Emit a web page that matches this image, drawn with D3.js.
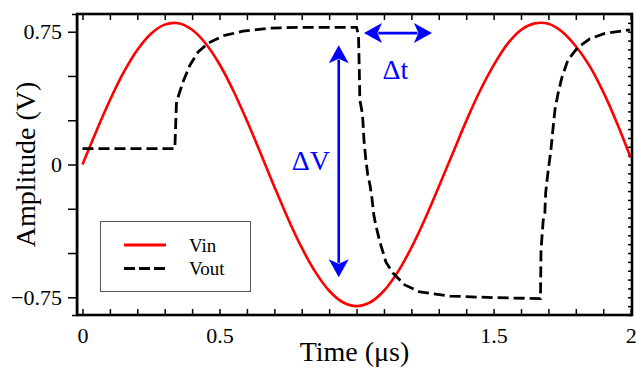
<!doctype html>
<html>
<head>
<meta charset="utf-8">
<style>
    body { margin: 0; background: #fff; }
    svg { display: block; font-family: "Liberation Serif", "Times New Roman", serif; }
    .tick text { font-size: 22px; fill: #000; }
    .tick line { stroke: #000; stroke-width: 1.5; }
</style>
<script src="https://d3js.org/d3.v7.min.js"></script>
</head>
<body>
<svg width="636" height="375"></svg>
<script>
    // values
    var vinTime = [0, 0.05, 0.1, 0.15, 0.2, 0.25, 0.3, 0.35, 0.4, 0.45, 0.5, 0.55, 0.6, 0.65, 0.7, 0.75, 0.8, 0.85, 0.9, 0.95,
                   1.0, 1.05, 1.1, 1.15, 1.2, 1.25, 1.3, 1.35, 1.4, 1.45, 1.5, 1.55, 1.6, 1.65, 1.7, 1.75, 1.8, 1.85, 1.9, 1.95, 2.0];
    var vinValue = [0, 0.187, 0.363, 0.52, 0.647, 0.739, 0.79, 0.798, 0.761, 0.682, 0.566, 0.418, 0.247, 0.063, -0.125, -0.306, -0.47, -0.608, -0.713, -0.778,
                    -0.8, -0.778, -0.713, -0.608, -0.47, -0.306, -0.125, 0.06, 0.245, 0.415, 0.56, 0.68, 0.76, 0.797, 0.795, 0.75, 0.668, 0.557, 0.41, 0.235, 0.04];

    var voutTime = [0, 0.337, 0.343, 0.367, 0.392, 0.422, 0.458, 0.513, 0.586, 0.684, 0.8, 1.0,
                    1.007, 1.01, 1.012, 1.019, 1.023, 1.027, 1.034, 1.041, 1.049, 1.056, 1.063, 1.07, 1.085, 1.107, 1.132, 1.176, 1.231, 1.341, 1.5, 1.671,
                    1.673, 1.681, 1.687, 1.69, 1.698, 1.709, 1.716, 1.724, 1.735, 1.749, 1.771, 1.807, 1.851, 1.906, 1.997];
    var voutValue = [0.09, 0.09, 0.354, 0.467, 0.561, 0.636, 0.684, 0.727, 0.753, 0.77, 0.775, 0.775,
                     0.731, 0.533, 0.364, 0.307, 0.251, 0.138, 0.025, -0.059, -0.116, -0.189, -0.285, -0.341, -0.437, -0.55, -0.612, -0.68, -0.72, -0.743, -0.752, -0.757,
                     -0.484, -0.315, -0.275, -0.16, -0.05, 0.08, 0.19, 0.31, 0.4, 0.49, 0.59, 0.66, 0.71, 0.74, 0.76];

    var xMinor = d3.range(0, 21).map(function(i) { return i / 10; });
    var xLabels = { "0": "0", "0.5": "0.5", "1.5": "1.5", "2": "2" };
    var yTicks = [-0.75, -0.5, -0.25, 0, 0.25, 0.5, 0.75];
    var yLabels = { "0.75": "0.75", "0": "0", "-0.75": "\u22120.75" };
    var yRightTicks = d3.range(-17, 18).map(function(i) { return i * 0.05; });

    var seriesNames = ["Vin", "Vout"];

    var serif = "Liberation Serif, Times New Roman, serif";
    var svg = d3.select("svg");
    var pLeft = 77, pRight = 632, pTop = 14, pBottom = 315;

    var x = d3.scaleLinear().domain([-0.02, 2.005]).range([pLeft, pRight]);
    var y = d3.scaleLinear().domain([-0.85, 0.85]).range([pBottom, pTop]);

    svg.append("defs").append("clipPath").attr("id", "clip")
       .append("rect").attr("x", pLeft).attr("y", pTop).attr("width", pRight - pLeft).attr("height", pBottom - pTop);

    // axes
    var gb = svg.append("g")
       .attr("transform", "translate(0," + pBottom + ")")
       .call(d3.axisBottom(x).tickValues(xMinor).tickSizeInner(-6).tickSizeOuter(0).tickPadding(12)
             .tickFormat(function(d) { var k = String(+d.toFixed(2)); return xLabels[k] || ""; }));
    gb.select(".domain").remove();
    gb.attr("font-family", serif);

    svg.append("g")
       .attr("transform", "translate(0," + pTop + ")")
       .call(d3.axisTop(x).tickValues(xMinor).tickSizeInner(-6).tickSizeOuter(0).tickFormat(""))
       .select(".domain").remove();

    var gl = svg.append("g")
       .attr("transform", "translate(" + pLeft + ",0)")
       .call(d3.axisLeft(y).tickValues(yTicks).tickSizeInner(9).tickSizeOuter(5).tickPadding(6)
             .tickFormat(function(d) { return yLabels[String(d)] || ""; }));
    gl.select(".domain").attr("stroke-width", 1.5);
    gl.attr("font-family", serif);

    svg.append("g")
       .attr("transform", "translate(" + pRight + ",0)")
       .call(d3.axisRight(y).tickValues(yRightTicks).tickSizeInner(-4).tickSizeOuter(0).tickFormat(""))
       .select(".domain").remove();

    // series
    var vin = vinTime.map(function(t, i) { return [t, vinValue[i]]; });
    var vout = voutTime.map(function(t, i) { return [t, voutValue[i]]; });

    var plot = svg.append("g").attr("clip-path", "url(#clip)");

    plot.append("path")
        .datum(vin)
        .attr("fill", "none")
        .attr("stroke", "#ff0000")
        .attr("stroke-width", 2.6)
        .attr("d", d3.line().curve(d3.curveCatmullRom)
             .x(function(d) { return x(d[0]); }).y(function(d) { return y(d[1]); }));

    plot.append("path")
        .datum(vout)
        .attr("fill", "none")
        .attr("stroke", "#000")
        .attr("stroke-width", 2.8)
        .attr("stroke-dasharray", "11,5")
        .attr("d", d3.line()
             .x(function(d) { return x(d[0]); }).y(function(d) { return y(d[1]); }));

    // frame
    svg.append("rect")
       .attr("x", pLeft).attr("y", pTop)
       .attr("width", pRight - pLeft).attr("height", pBottom - pTop)
       .attr("fill", "none").attr("stroke", "#000").attr("stroke-width", 2.6);

    // annotations
    var blue = "#0000ff";
    function arrow(x1, y1, x2, y2) {
        var ang = Math.atan2(y2 - y1, x2 - x1), hl = 18, hw = 10;
        var g = svg.append("g");
        var ca = Math.cos(ang), sa = Math.sin(ang);
        g.append("line")
         .attr("x1", x1 + ca * hl * 0.8).attr("y1", y1 + sa * hl * 0.8)
         .attr("x2", x2 - ca * hl * 0.8).attr("y2", y2 - sa * hl * 0.8)
         .attr("stroke", blue).attr("stroke-width", 2.6);
        [[x1, y1, ang + Math.PI], [x2, y2, ang]].forEach(function(p) {
            var c = Math.cos(p[2]), s = Math.sin(p[2]);
            var bx = p[0] - c * hl, by = p[1] - s * hl;
            var nx = p[0] - c * hl * 0.75, ny = p[1] - s * hl * 0.75;
            g.append("path")
             .attr("d", "M" + p[0] + "," + p[1] +
                   "L" + (bx - s * hw) + "," + (by + c * hw) +
                   "L" + nx + "," + ny +
                   "L" + (bx + s * hw) + "," + (by - c * hw) + "Z")
             .attr("fill", blue);
        });
    }
    arrow(x(0.935), y(0.674), x(0.935), y(-0.637));
    arrow(x(1.027), y(0.742), x(1.275), y(0.742));

    svg.append("text").attr("x", x(0.764)).attr("y", y(-0.032))
       .attr("font-size", 28).attr("fill", blue).text("\u0394V");
    svg.append("text").attr("x", x(1.095)).attr("y", y(0.482))
       .attr("font-size", 28).attr("fill", blue).text("\u0394t");

    // axis titles
    svg.append("text")
       .attr("transform", "translate(35," + (pTop + pBottom) / 2 + ") rotate(-90)")
       .attr("text-anchor", "middle").attr("font-size", 28)
       .text("Amplitude (V)");
    svg.append("text")
       .attr("x", (pLeft + pRight) / 2).attr("y", 361)
       .attr("text-anchor", "middle").attr("font-size", 28)
       .text("Time (\u03bcs)");

    // legend
    var lg = svg.append("g");
    lg.append("rect").attr("x", 100.5).attr("y", 221.5).attr("width", 150).attr("height", 70)
      .attr("fill", "#fff").attr("stroke", "#555").attr("stroke-width", 1);
    seriesNames.forEach(function(name, i) {
        var ly = 245 + i * 23.5;
        lg.append("line").attr("x1", 124).attr("x2", 166).attr("y1", ly).attr("y2", ly)
          .attr("stroke", i === 0 ? "#ff0000" : "#000").attr("stroke-width", 2.8)
          .attr("stroke-dasharray", i === 0 ? null : "11,4");
        lg.append("text").attr("x", 189).attr("y", ly + 6.5).attr("font-size", 19).text(name);
    });
</script>
</body>
</html>
